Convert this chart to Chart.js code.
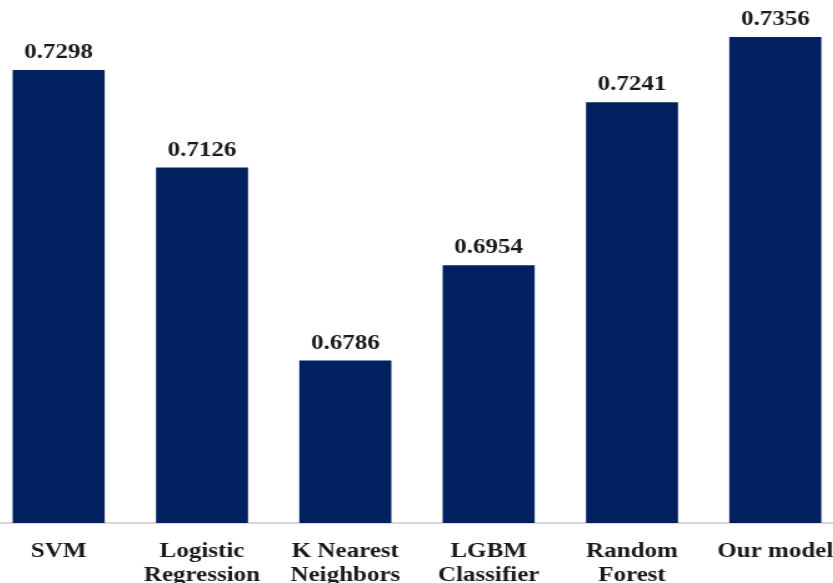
<!DOCTYPE html>
<html>
<head>
<meta charset="utf-8">
<script src="https://cdn.jsdelivr.net/npm/chart.js@4/dist/chart.umd.min.js"></script>
<style>
  html, body { margin: 0; padding: 0; background: #ffffff; overflow: hidden; width: 833px; height: 583px; }
  #wrap { position: absolute; left: -13px; top: 0; width: 688px; height: 583px; transform: scaleX(1.25); transform-origin: 0 0; }
</style>
</head>
<body>
<div id="wrap"><canvas id="c"></canvas></div>
<script>
const categories = [["SVM"], ["Logistic", "Regression"], ["K Nearest", "Neighbors"], ["LGBM", "Classifier"], ["Random", "Forest"], ["Our model"]];
const accuracy = [0.7298, 0.7126, 0.6786, 0.6954, 0.7241, 0.7356];
const yMin = 0.65;
const yMax = 0.74;

const labelFont = { family: "'Liberation Serif', 'Times New Roman', serif", size: 20, weight: 'bold', lineHeight: 1.2 };

const valueLabels = {
  id: 'valueLabels',
  afterDatasetsDraw(chart) {
    const ctx = chart.ctx;
    const meta = chart.getDatasetMeta(0);
    ctx.save();
    ctx.font = "bold 20px 'Liberation Serif', 'Times New Roman', serif";
    ctx.fillStyle = '#1a1a1a';
    ctx.textAlign = 'center';
    ctx.textBaseline = 'bottom';
    meta.data.forEach((bar, i) => {
      ctx.fillText(chart.data.datasets[0].data[i].toFixed(4), bar.x, bar.y - 7);
    });
    ctx.restore();
  }
};

new Chart(document.getElementById('c'), {
  type: 'bar',
  data: {
    labels: categories,
    datasets: [{
      data: accuracy,
      backgroundColor: '#002060',
      borderWidth: 0,
      barPercentage: 0.642,
      categoryPercentage: 1.0
    }]
  },
  options: {
    responsive: true,
    maintainAspectRatio: false,
    animation: false,
    devicePixelRatio: 1,
    layout: { padding: { top: 12, left: 0, right: 0, bottom: 0 } },
    plugins: { legend: { display: false }, tooltip: { enabled: false } },
    scales: {
      x: {
        grid: { display: false },
        border: { display: true, color: '#d9d9d9', width: 2 },
        ticks: { color: '#1a1a1a', font: labelFont, padding: 9, maxRotation: 0, autoSkip: false },
        afterFit(scale) { scale.height = 60; }
      },
      y: {
        display: false,
        min: yMin,
        max: yMax
      }
    }
  },
  plugins: [valueLabels]
});
</script>
</body>
</html>
